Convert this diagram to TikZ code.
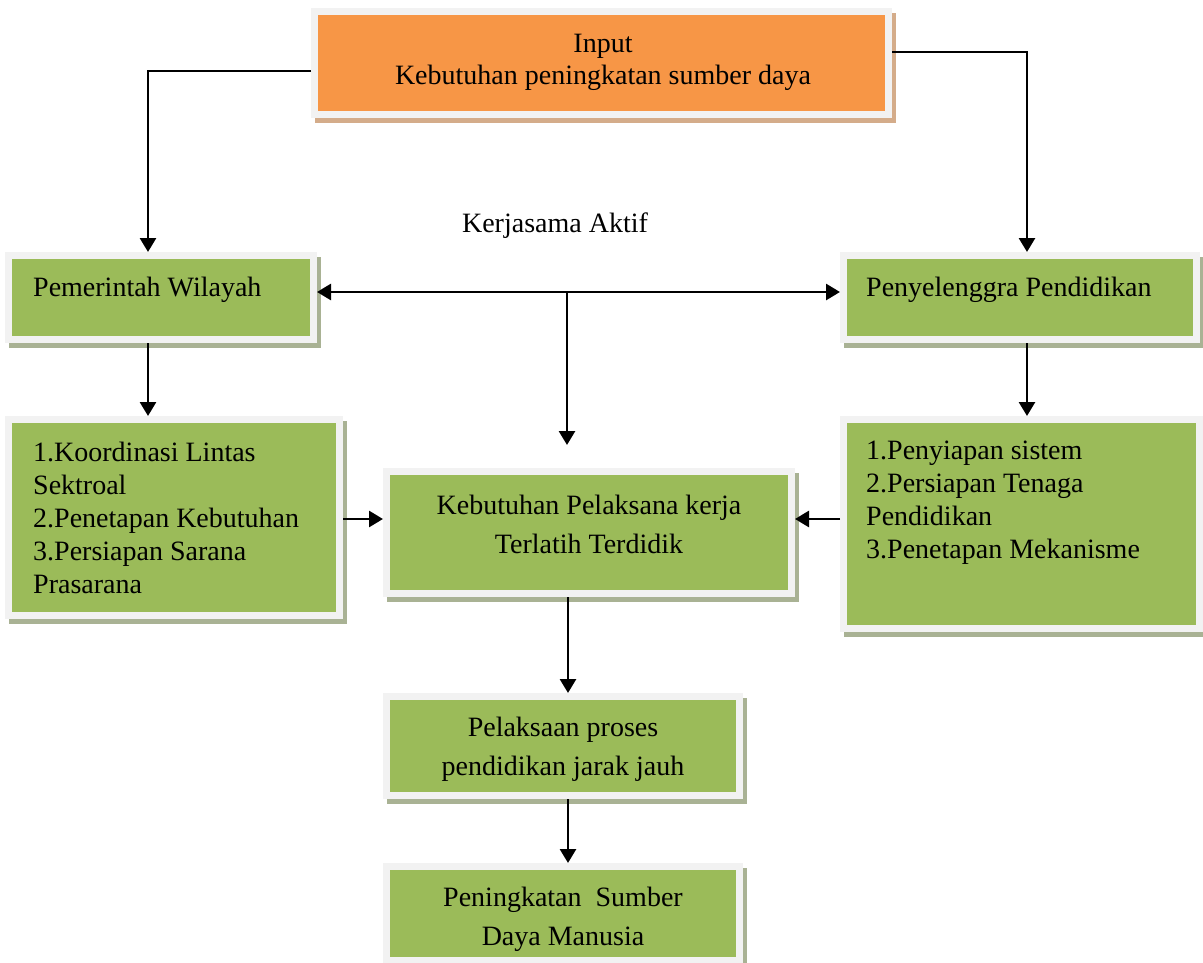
\documentclass[tikz,border=0pt]{standalone}
\usepackage{fontspec}
\setmainfont{Liberation Serif}
\usetikzlibrary{arrows.meta,calc}
\definecolor{gfill}{HTML}{9BBB59}
\definecolor{ofill}{HTML}{F79646}
\definecolor{frame}{HTML}{F2F2F2}
\definecolor{gshadow}{HTML}{A9B294}
\definecolor{oshadow}{HTML}{D4AC8A}
\tikzset{
  box/.style={rectangle, draw=frame, line width=7pt, inner sep=0pt},
  gbox/.style={box, fill=gfill,
    preaction={draw=gshadow, fill=gshadow, line width=7pt, transform canvas={xshift=4pt, yshift=-5pt}}},
  obox/.style={box, fill=ofill,
    preaction={draw=oshadow, fill=oshadow, line width=7pt, transform canvas={xshift=4pt, yshift=-5pt}}},
  txt/.style={inner sep=0pt, font=\fontsize{28}{33}\selectfont},
  ctxt/.style={inner sep=0pt, align=center, font=\fontsize{28}{39}\selectfont},
  ltxt/.style={inner sep=0pt, align=left, anchor=west, font=\fontsize{28}{33}\selectfont},
  arr/.style={line width=2.8pt, -{Triangle[length=14pt,width=16pt]}},
  arrtwo/.style={line width=2.8pt, {Triangle[length=14pt,width=16pt]}-{Triangle[length=14pt,width=16pt]}},
}
\begin{document}
\begin{tikzpicture}[x=1pt,y=-1pt]
\useasboundingbox (0,0) rectangle (1203,963);
% boxes
\node[obox, minimum width=574pt, minimum height=103pt] (in) at (601.5,63) {};
\node[gbox, minimum width=305pt, minimum height=84pt] (pw) at (161,297.5) {};
\node[gbox, minimum width=353pt, minimum height=84pt] (pe) at (1020,297.5) {};
\node[gbox, minimum width=331pt, minimum height=196pt] (ll) at (174,517.5) {};
\node[gbox, minimum width=356pt, minimum height=209pt] (rl) at (1021.5,524) {};
\node[gbox, minimum width=405pt, minimum height=122pt] (cb) at (589,532.5) {};
\node[gbox, minimum width=353pt, minimum height=99pt] (pl) at (563,746) {};
\node[gbox, minimum width=353pt, minimum height=94pt] (pk) at (563,913.5) {};
% texts
\node[ctxt, font=\fontsize{28}{32}\selectfont] (intxt) at (603,62) {Input\\Kebutuhan peningkatan sumber daya};
\node[txt] (ka) at (555,226) {Kerjasama Aktif};
\node[ltxt] (pwtxt) at (33,290) {Pemerintah Wilayah};
\node[ltxt] (petxt) at (866,290) {Penyelenggra Pendidikan};
\node[ltxt] (lltxt) at (33,518) {1.Koordinasi Lintas\\Sektroal\\2.Penetapan Kebutuhan\\3.Persiapan Sarana\\Prasarana};
\node[ltxt] (rltxt) at (866,502.5) {1.Penyiapan sistem\\2.Persiapan Tenaga\\Pendidikan\\3.Penetapan Mekanisme};
\node[ctxt] (cbtxt) at (589,524) {Kebutuhan Pelaksana kerja\\Terlatih Terdidik};
\node[ctxt] (pltxt) at (563,749) {Pelaksaan proses\\pendidikan jarak jauh};
\node[ctxt] (pktxt) at (563,919) {Peningkatan\ \ Sumber\\Daya Manusia};
% helper coordinates
\coordinate (L) at (148,71);
\coordinate (R) at (1027,52);
\coordinate (M) at (567,292);
\coordinate (T) at (567,445);
\coordinate (H) at (0,519);
\coordinate (V) at (568,0);
% connectors
\draw[arr] (in.west |- L) -| (pw.north -| L);
\draw[arr] (in.east |- R) -| (pe.north -| R);
\draw[arrtwo] (pw.east |- M) -- (pe.west |- M);
\draw[arr] (M) -- (T);
\draw[arr] (pw.south -| L) -- (ll.north -| L);
\draw[arr] (pe.south -| R) -- (rl.north -| R);
\draw[arr] (ll.east |- H) -- (cb.west |- H);
\draw[arr] (rl.west |- H) -- (cb.east |- H);
\draw[arr] (cb.south -| V) -- (pl.north -| V);
\draw[arr] (pl.south -| V) -- (pk.north -| V);
\end{tikzpicture}
\end{document}
